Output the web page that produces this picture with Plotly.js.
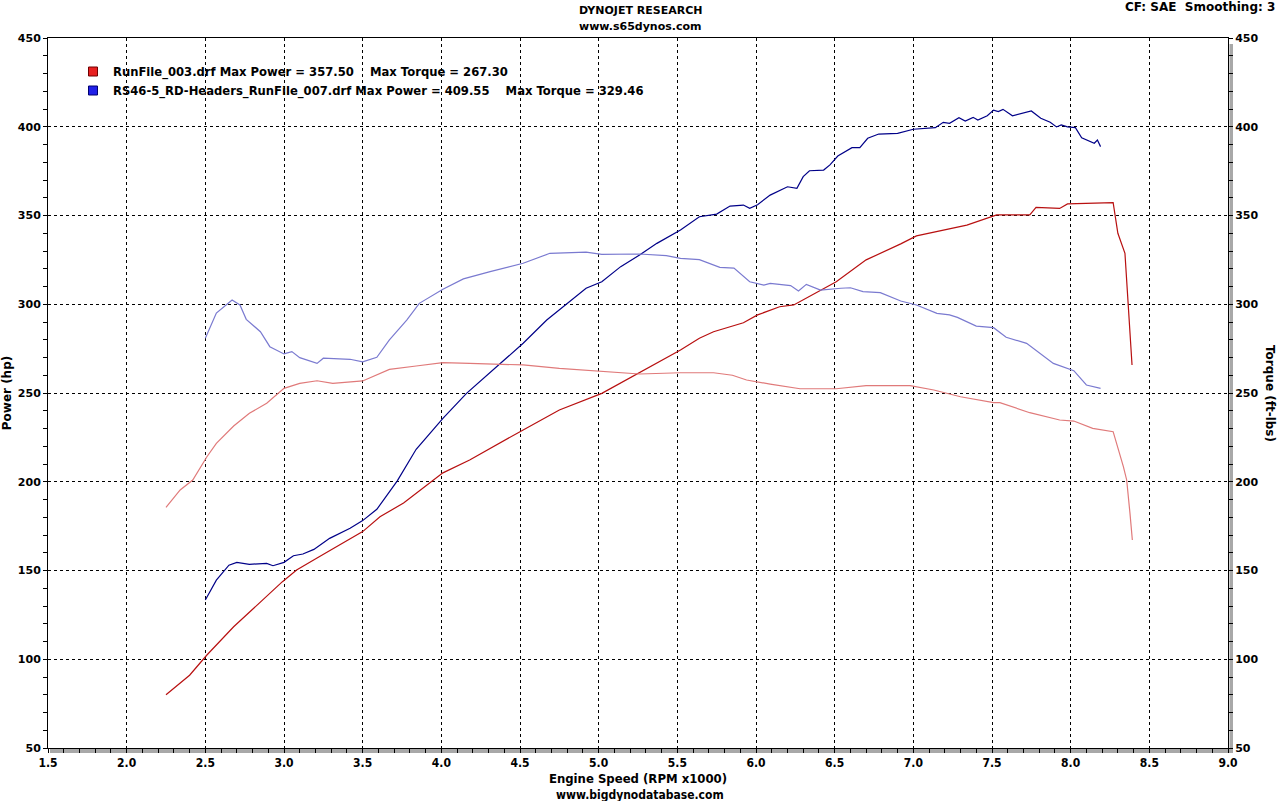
<!DOCTYPE html>
<html>
<head>
<meta charset="utf-8">
<script src="https://cdn.plot.ly/plotly-3.0.1.min.js"></script>
<style>html,body{margin:0;padding:0;background:#fff;}#chart{width:1280px;height:801px;}</style>
</head>
<body>
<div id="chart"></div>
<script>
// ---- Data (RPM x1000) ----
const run003PowerRpm = [2.25,2.40,2.51,2.68,2.99,3.08,3.21,3.50,3.61,3.76,4.01,4.18,4.52,4.75,5.02,5.26,5.52,5.64,5.73,5.92,6.01,6.15,6.24,6.51,6.70,6.92,7.02,7.34,7.53,7.74,7.78,7.93,7.98,8.27,8.30,8.345,8.364,8.39];
const run003PowerHp  = [80,91,102.4,118.3,143.7,150.3,157,171.9,180.3,188,205,212.3,229.2,240.4,249.8,261.3,274.2,280.8,284.5,289.6,294,298.6,299.6,312.7,325,334,338.5,344.6,350.3,350.3,354.6,354,356.5,357.2,340,328.7,302.4,265.8];

const run003TorqueRpm = [2.25,2.34,2.42,2.51,2.57,2.68,2.78,2.89,3.00,3.10,3.21,3.31,3.50,3.61,3.67,3.84,4.01,4.18,4.52,4.75,5.02,5.26,5.52,5.73,5.85,5.94,6.09,6.28,6.51,6.70,6.98,7.13,7.30,7.51,7.55,7.74,7.93,8.02,8.14,8.27,8.335,8.356,8.377,8.392];
const run003TorqueFtLb = [185.6,195.4,201,214.1,221.6,231.4,238.6,244.2,252.6,255.4,256.9,255.4,256.8,261.1,263.3,265.2,267.1,266.7,265.8,263.9,262,260.7,261.4,261.4,260,257.3,255,252.4,252.4,254.1,254.1,251.7,247.9,244.6,244.6,238.9,234.8,234.2,230.1,228.2,208.5,201,182.2,167.2];

const run007PowerRpm = [2.50,2.57,2.65,2.70,2.78,2.89,2.93,3.00,3.06,3.12,3.19,3.29,3.42,3.50,3.59,3.72,3.84,4.01,4.16,4.35,4.52,4.67,4.80,4.92,5.02,5.14,5.26,5.37,5.52,5.64,5.75,5.835,5.92,5.96,6.01,6.09,6.20,6.26,6.30,6.34,6.43,6.47,6.52,6.61,6.66,6.71,6.78,6.90,7.00,7.14,7.19,7.23,7.29,7.33,7.38,7.41,7.47,7.51,7.54,7.57,7.63,7.68,7.75,7.81,7.87,7.91,7.94,7.98,8.03,8.07,8.12,8.15,8.17,8.19];
const run007PowerHp  = [133.4,144.6,153,154.6,153.5,154,152.7,154.6,158.3,159.3,161.9,168.1,173.8,178.1,184.5,200.5,218.3,235.7,249.8,264.8,278,291.1,300.5,309,312.7,321.2,327.7,334.3,341.8,349.3,350.8,355.3,355.9,354,356.1,361.5,366.2,365.3,371.9,375.2,375.6,378.5,383.5,388.2,388.2,393.5,395.9,396.3,398.6,399.5,402.5,401.9,405.1,403.2,405.3,403.8,406.2,409.4,408.5,409.8,406.2,407.5,408.9,404.8,402.5,399.9,401,399.9,399.5,393.8,391.6,390.7,392.5,388.8];

const run007TorqueRpm = [2.50,2.57,2.67,2.72,2.76,2.85,2.91,3.00,3.05,3.10,3.21,3.25,3.42,3.50,3.59,3.67,3.78,3.86,4.01,4.14,4.31,4.52,4.69,4.92,5.02,5.26,5.43,5.52,5.64,5.77,5.86,5.96,6.05,6.09,6.22,6.27,6.32,6.41,6.54,6.60,6.68,6.79,6.92,7.02,7.15,7.23,7.28,7.40,7.51,7.59,7.72,7.89,8.02,8.10,8.19];
const run007TorqueFtLb = [280.8,295,302.4,299.6,291.5,284.5,276.1,272,273.3,269.9,266.7,269.6,269,267.6,270.1,279.9,291.1,300.5,308.5,314.3,318.4,323.1,328.7,329.4,328.1,328.3,327.4,325.9,325.1,320.8,320.4,312.7,310.8,311.8,310.5,307.5,311.2,308,309,309.3,307.1,306.5,301.8,299.6,294.9,294,292.6,287.7,286.8,281.4,278,266.7,262.6,254.5,252.6];

const legendNames = [
  'RunFile_003.drf Max Power = 357.50\u00a0\u00a0\u00a0\u00a0Max Torque = 267.30',
  'RS46-5_RD-Headers_RunFile_007.drf Max Power = 409.55\u00a0\u00a0\u00a0\u00a0Max Torque = 329.46'
];
const xTickVals = [1.5,2.0,2.5,3.0,3.5,4.0,4.5,5.0,5.5,6.0,6.5,7.0,7.5,8.0,8.5,9.0];

// ---- Styles ----
const C = {
  redPower: '#b81010', redTorque: '#e07a7a',
  bluePower: '#000088', blueTorque: '#7a7ad0'
};
const boldSans = {family: 'DejaVu Sans, Verdana, sans-serif', size: 11, color: '#000', weight: 'bold'};
const condSans = {family: 'DejaVu Sans Condensed, DejaVu Sans, sans-serif', size: 12, color: '#000', weight: 'bold'};

const traces = [
  {x: run003TorqueRpm, y: run003TorqueFtLb, yaxis: 'y2', mode: 'lines', line: {color: C.redTorque, width: 1.2}, showlegend: false, name: 'RunFile_003 Torque'},
  {x: run007TorqueRpm, y: run007TorqueFtLb, yaxis: 'y2', mode: 'lines', line: {color: C.blueTorque, width: 1.2}, showlegend: false, name: 'RS46-5 Torque'},
  {x: run003PowerRpm, y: run003PowerHp, mode: 'lines', line: {color: C.redPower, width: 1.2}, showlegend: false, name: 'RunFile_003 Power'},
  {x: run007PowerRpm, y: run007PowerHp, mode: 'lines', line: {color: C.bluePower, width: 1.2}, showlegend: false, name: 'RS46-5 Power'},
  {x: [null], y: [null], mode: 'markers', name: legendNames[0], marker: {symbol: 'square', size: 9, color: '#e82020', line: {color: '#700000', width: 1}}},
  {x: [null], y: [null], mode: 'markers', name: legendNames[1], marker: {symbol: 'square', size: 9, color: '#2020e8', line: {color: '#000070', width: 1}}}
];

const W = 1180, H = 710;
const layout = {
  width: 1280, height: 801,
  margin: {l: 48, r: 52, t: 38, b: 53, pad: 0},
  paper_bgcolor: '#fff', plot_bgcolor: '#fff',
  showlegend: true,
  legend: {x: 25/W, y: 1 - 19/H, xanchor: 'left', yanchor: 'top', bgcolor: 'rgba(0,0,0,0)', font: {family: boldSans.family, size: 11.6, color: '#000', weight: 'bold'}, itemwidth: 30, tracegroupgap: 0, traceorder: 'normal'},
  xaxis: {
    range: [1.5, 9.0], tickvals: xTickVals, tickformat: '.1f',
    showgrid: true, gridcolor: '#000', gridwidth: 1, griddash: '3px,3px',
    zeroline: false, showline: true, linecolor: '#000', linewidth: 1, mirror: true,
    ticks: 'outside', ticklen: 4, tickcolor: '#000',
    minor: {dtick: 0.1, ticks: 'outside', ticklen: 4, tickcolor: '#000', showgrid: false},
    tickfont: condSans,
    title: {text: 'Engine Speed (RPM x1000)', font: {family: condSans.family, size: 13, color: '#000', weight: 'bold'}, standoff: 4}
  },
  yaxis: {
    range: [50, 450], dtick: 50,
    showgrid: true, gridcolor: '#000', gridwidth: 1, griddash: '3px,3px',
    zeroline: false, showline: true, linecolor: '#000', linewidth: 1, mirror: false,
    ticks: 'outside', ticklen: 4, tickcolor: '#000',
    minor: {dtick: 10, ticks: 'outside', ticklen: 4, tickcolor: '#000', showgrid: false},
    tickfont: boldSans,
    title: {text: 'Power (hp)', font: {family: boldSans.family, size: 12, color: '#000', weight: 'bold'}, standoff: 6}
  },
  yaxis2: {
    range: [50, 450], dtick: 50, overlaying: 'y', side: 'right',
    showgrid: false, zeroline: false, showline: true, linecolor: '#000', linewidth: 1,
    ticks: 'outside', ticklen: 4, tickcolor: '#000',
    minor: {dtick: 10, ticks: 'outside', ticklen: 4, tickcolor: '#000', showgrid: false},
    tickfont: boldSans
  },
  shapes: [
    {type: 'rect', xref: 'paper', yref: 'paper', layer: 'below', x0: 1 + 1.5/W, x1: 1 + 5/W, y0: -5/H, y1: 1 - 6/H, fillcolor: '#a8a8a8', line: {width: 0}},
    {type: 'rect', xref: 'paper', yref: 'paper', layer: 'below', x0: 2/W, x1: 1 + 5/W, y0: -5/H, y1: -1/H, fillcolor: '#a8a8a8', line: {width: 0}}
  ],
  annotations: [
    {text: 'DYNOJET RESEARCH', xref: 'paper', yref: 'paper', x: (640-48)/W, y: (748-10)/H, xanchor: 'center', yanchor: 'middle', showarrow: false, font: boldSans},
    {text: 'www.s65dynos.com', xref: 'paper', yref: 'paper', x: (640-48)/W, y: (748-26)/H, xanchor: 'center', yanchor: 'middle', showarrow: false, font: boldSans},
    {text: 'CF: SAE\u00a0\u00a0Smoothing: 3', xref: 'paper', yref: 'paper', x: (1277-48)/W, y: (748-7)/H, xanchor: 'right', yanchor: 'middle', showarrow: false, font: {family: boldSans.family, size: 12, color: '#000', weight: 'bold'}},
    {text: 'www.bigdynodatabase.com', xref: 'paper', yref: 'paper', x: (640-48)/W, y: (748-795)/H, xanchor: 'center', yanchor: 'middle', showarrow: false, font: {family: condSans.family, size: 12, color: '#000', weight: 'bold'}},
    {text: 'Torque (ft-lbs)', xref: 'paper', yref: 'paper', x: (1270-48)/W, y: 0.5, xanchor: 'center', yanchor: 'middle', textangle: 90, showarrow: false, font: {family: boldSans.family, size: 12, color: '#000', weight: 'bold'}}
  ]
};

Plotly.newPlot('chart', traces, layout, {displayModeBar: false, staticPlot: true});
</script>
</body>
</html>
